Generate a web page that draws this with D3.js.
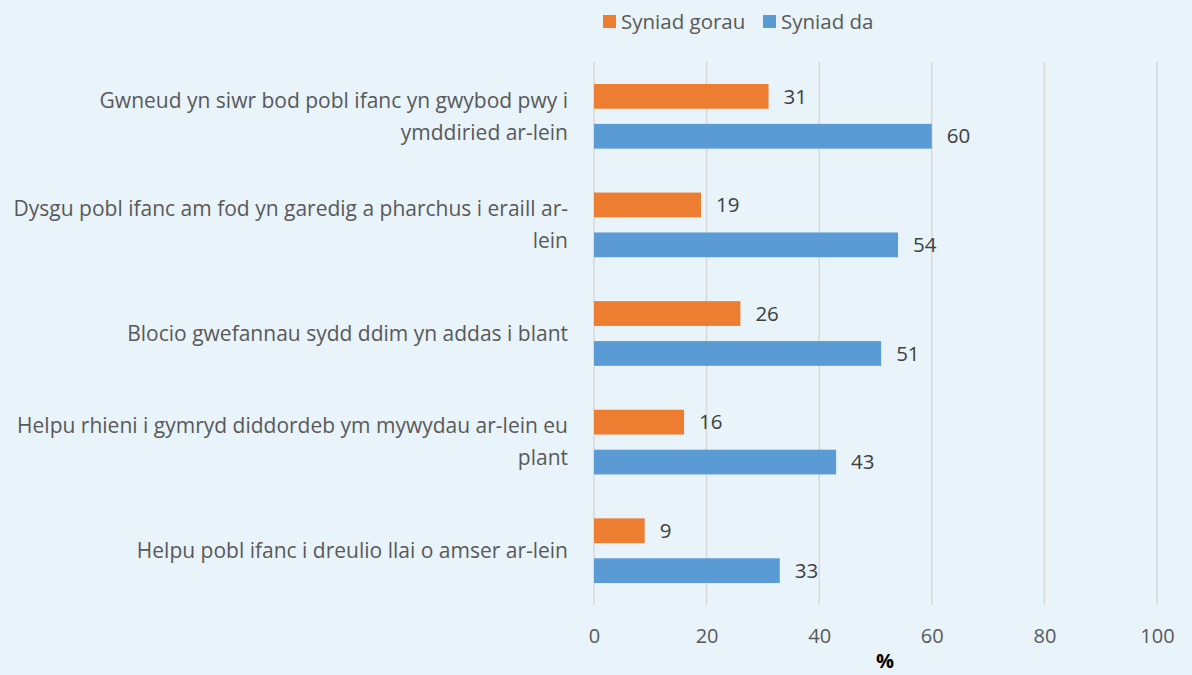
<!DOCTYPE html>
<meta charset="UTF-8">
<style>
  body { margin: 0; background: #e8f3fa; }
  svg { display: block; font-family: "Open Sans", sans-serif; }
  .grid line { stroke: #d9d9d9; stroke-width: 1.5px; }
  .cat text { fill: #595959; font-size: 21px; }
  .val { fill: #404040; font-size: 20.5px; }
  .tick text { fill: #595959; font-size: 20px; }
</style>
<body>
<script src="https://cdn.jsdelivr.net/npm/d3@7"></script>
<script>
  // category labels, already broken into lines as in the original
  var categories = [
    ["Gwneud yn siwr bod pobl ifanc yn gwybod pwy i", "ymddiried ar-lein"],
    ["Dysgu pobl ifanc am fod yn garedig a pharchus i eraill ar-", "lein"],
    ["Blocio gwefannau sydd ddim yn addas i blant"],
    ["Helpu rhieni i gymryd diddordeb ym mywydau ar-lein eu", "plant"],
    ["Helpu pobl ifanc i dreulio llai o amser ar-lein"]
  ];
  var seriesNames = ["Syniad gorau", "Syniad da"];
  var gorau = [31, 19, 26, 16, 9];
  var da = [60, 54, 51, 43, 33];
  var ticks = [0, 20, 40, 60, 80, 100];
  var colors = ["#ed7d31", "#5b9bd5"];

  var W = 1192, H = 675;
  var margin = {top: 62, left: 594, right: 35, bottom: 70};

  var svg = d3.select("body").append("svg")
    .attr("width", W).attr("height", H);

  var x = d3.scaleLinear().domain([0, 100]).range([margin.left, 1157]);
  var y = d3.scaleBand().domain(d3.range(categories.length))
    .range([margin.top, H - margin.bottom]).paddingInner(0).paddingOuter(0);
  var sub = d3.scaleBand().domain([0, 1]).range([0, y.bandwidth()])
    .paddingInner(0.38).paddingOuter(0.55);

  // gridlines
  svg.append("g").attr("class", "grid")
    .selectAll("line").data(ticks).join("line")
    .attr("x1", d => x(d)).attr("x2", d => x(d))
    .attr("y1", margin.top).attr("y2", H - margin.bottom);

  // axis labels
  var axis = d3.axisBottom(x).tickValues(ticks).tickSize(0).tickPadding(24);
  var ax = svg.append("g").attr("transform", "translate(0," + (H - margin.bottom) + ")").call(axis);
  ax.select(".domain").remove();
  ax.selectAll(".tick text").attr("font-family", "Open Sans, sans-serif");

  svg.append("text").attr("x", 885).attr("y", 668)
    .attr("text-anchor", "middle").attr("font-weight", "bold")
    .attr("font-size", 20).attr("fill", "#000").text("%");

  // bars
  var rows = categories.map((c, i) => ({i: i, vals: [gorau[i], da[i]]}));
  var g = svg.selectAll("g.row").data(rows).join("g").attr("class", "row")
    .attr("transform", d => "translate(0," + y(d.i) + ")");

  g.selectAll("rect").data(d => d.vals).join("rect")
    .attr("x", x(0))
    .attr("y", (d, j) => sub(j))
    .attr("height", sub.bandwidth())
    .attr("width", d => x(d) - x(0))
    .attr("fill", (d, j) => colors[j]);

  g.selectAll("text.val").data(d => d.vals).join("text")
    .attr("class", "val")
    .attr("x", d => x(d) + 15)
    .attr("y", (d, j) => sub(j) + sub.bandwidth() / 2)
    .attr("dy", "0.35em")
    .text(d => d);

  // category labels
  var lineH = 32;
  var cat = svg.append("g").attr("class", "cat");
  categories.forEach(function(lines, i) {
    var cy = y(i) + y.bandwidth() / 2;
    var t = cat.append("text").attr("text-anchor", "end");
    lines.forEach(function(l, k) {
      t.append("tspan").attr("x", 568)
        .attr("y", cy + (k - (lines.length - 1) / 2) * lineH)
        .attr("dy", "0.35em").text(l);
    });
  });

  // legend
  var leg = svg.append("g").attr("transform", "translate(603,15)");
  var lx = [0, 160];
  seriesNames.forEach(function(n, j) {
    leg.append("rect").attr("x", lx[j]).attr("y", 0).attr("width", 13).attr("height", 13)
      .attr("fill", colors[j]);
    leg.append("text").attr("x", lx[j] + 18).attr("y", 7).attr("dy", "0.35em")
      .attr("font-size", 20.5).attr("fill", "#595959").text(n);
  });
</script>
</body>
